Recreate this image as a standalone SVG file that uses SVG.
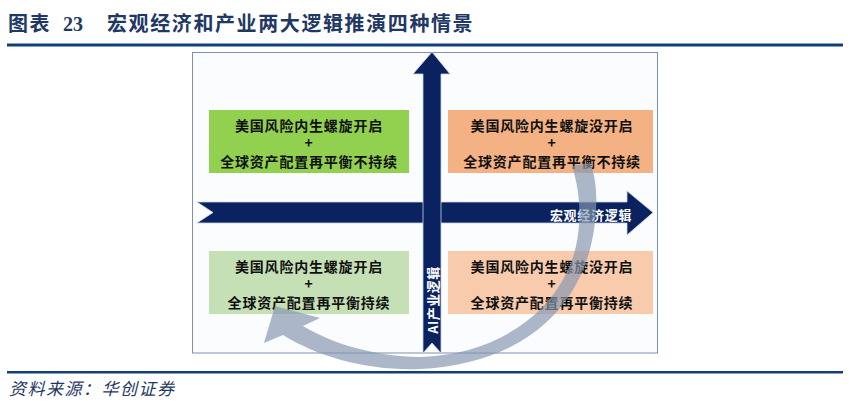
<svg xmlns="http://www.w3.org/2000/svg" width="852" height="407" viewBox="0 0 852 407">
  <style>
    .ttl{font-family:"Liberation Serif","Noto Sans CJK SC",serif;font-weight:bold;fill:#1F3864;}
    .cjk{font-family:"Noto Sans CJK SC","Liberation Sans",sans-serif;}
    .bx{font-family:"Noto Sans CJK SC","Liberation Sans",sans-serif;font-size:14px;font-weight:bold;fill:#111;letter-spacing:0.8px;}
    .ax{fill:#0B2260;stroke:#C9D2E4;stroke-width:0.8;}
    .axt{font-family:"Noto Sans CJK SC","Liberation Sans",sans-serif;font-size:13px;font-weight:bold;fill:#fff;}
    .rule{fill:#133E7C;}
  </style>
  <rect x="0" y="0" width="852" height="407" fill="#fff"/>
  <g id="title">
    <text x="8" y="31" class="ttl cjk" font-size="20" letter-spacing="1.6">图表</text>
    <text x="63" y="31" class="ttl" font-size="20" style="font-family:'Liberation Serif',serif">23</text>
    <text x="107" y="31" class="ttl cjk" font-size="20" letter-spacing="1.6">宏观经济和产业两大逻辑推演四种情景</text>
    <rect class="rule" x="7" y="43.5" width="836" height="3"/>
  </g>
  <g id="frame">
    <rect x="192.5" y="52.5" width="465" height="300.5" fill="#FBFCFE" stroke="#7F8FAF" stroke-width="1"/>
  </g>
  <g id="box-tl">
    <rect x="209" y="110" width="200" height="63" fill="#92D050"/>
    <text class="bx" text-anchor="middle" dominant-baseline="central"><tspan x="309" y="125">美国风险内生螺旋开启</tspan><tspan x="309" y="142">+</tspan><tspan x="309" y="161">全球资产配置再平衡不持续</tspan></text>
  </g>
  <g id="box-tr">
    <rect x="448" y="110" width="205" height="63" fill="#F4B183"/>
    <text class="bx" text-anchor="middle" dominant-baseline="central"><tspan x="552" y="125">美国风险内生螺旋没开启</tspan><tspan x="552" y="142">+</tspan><tspan x="552" y="161">全球资产配置再平衡不持续</tspan></text>
  </g>
  <g id="box-bl">
    <rect x="209" y="251" width="200" height="63" fill="#C5E0B4"/>
    <text class="bx" text-anchor="middle" dominant-baseline="central"><tspan x="309" y="266">美国风险内生螺旋开启</tspan><tspan x="309" y="283">+</tspan><tspan x="309" y="302">全球资产配置再平衡持续</tspan></text>
  </g>
  <g id="box-br">
    <rect x="448" y="251" width="205" height="63" fill="#F8CBAD"/>
    <text class="bx" text-anchor="middle" dominant-baseline="central"><tspan x="552" y="266">美国风险内生螺旋没开启</tspan><tspan x="552" y="283">+</tspan><tspan x="552" y="302">全球资产配置再平衡持续</tspan></text>
  </g>
  <g id="axis-macro">
    <polygon class="ax" points="197,202 627,202 627,191 653,212.5 627,235 627,223 197,223 213,212.5"/>
    <text class="axt" x="591" y="214" text-anchor="middle" dominant-baseline="central" letter-spacing="0.7">宏观经济逻辑</text>
  </g>
  <g id="axis-ai">
    <polygon class="ax" points="432,52 450,74 441,74 441,353 432,343 423,353 423,74 413,74"/>
    <text class="axt" x="432" y="300" text-anchor="middle" dominant-baseline="central" transform="rotate(-90 432 300)" letter-spacing="0.5">AI产业逻辑</text>
  </g>
  <g id="connectors">
    <path d="M 590,163 C 600,185 598,230 585,265 C 560,330 500,365 420,369 C 370,371 320,358 283,335 L 264,343 L 275,306 L 320,318 L 303,326 C 335,345 375,356 420,357 C 490,355 545,320 568,270 C 582,240 583,200 572,166 Z" fill="#8497B0" fill-opacity="0.68"/>
  </g>
  <g id="footer">
    <rect class="rule" x="7" y="371" width="836" height="2.5"/>
    <text x="9" y="395" class="cjk" font-size="17" font-style="italic" letter-spacing="1.5" fill="#1F3864">资料来源：华创证券</text>
  </g>
</svg>
